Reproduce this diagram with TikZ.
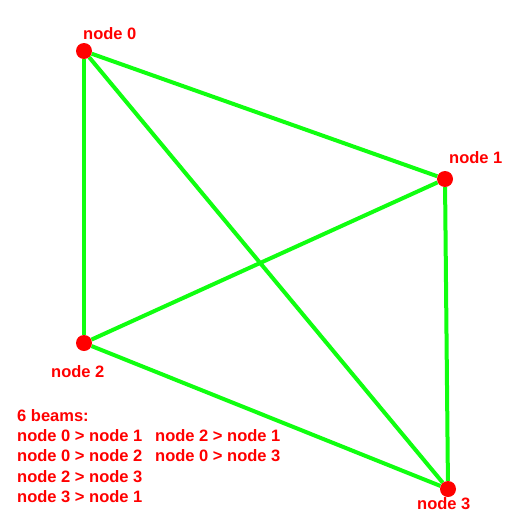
\documentclass[tikz,border=0pt]{standalone}
\usepackage{fontspec}
\setmainfont{Liberation Sans}
\usetikzlibrary{backgrounds, positioning}
\definecolor{beamgreen}{RGB}{16,255,16}

\begin{document}
\begin{tikzpicture}[x=1pt, y=-1pt,
		joint/.style={circle, fill=red, inner sep=0pt, minimum size=16pt},
		beam/.style={draw=beamgreen, line width=4pt},
		tag/.style={text=red, font=\bfseries\fontsize{16.5}{20}\selectfont, inner sep=0pt, anchor=base west}
		]
		\useasboundingbox (0,0) rectangle (512,512);
		\node [joint] (node0) at (84,51) {};
		\node [joint] (node1) at (445,179) {};
		\node [joint] (node2) at (84,343) {};
		\node [joint] (node3) at (448,489) {};
		\begin{scope}[on background layer]
			\draw [beam] (node0) -- (node1);
			\draw [beam] (node0) -- (node2);
			\draw [beam] (node2) -- (node3);
			\draw [beam] (node3) -- (node1);
			\draw [beam] (node2) -- (node1);
			\draw [beam] (node0) -- (node3);
		\end{scope}
		\node [tag] (tag0) at (83,39) {node 0};
		\node [tag] (tag1) at (449,163) {node 1};
		\node [tag] (tag2) at (51,377) {node 2};
		\node [tag] (tag3) at (417,509) {node 3};
		% beam list
		\node [tag] (count) at (17,421) {6 beams:};
		\node [tag] (beam01) at (17,441.5) {node 0 > node 1};
		\node [tag] (beam02) at (17,461.5) {node 0 > node 2};
		\node [tag] (beam23) at (17,482) {node 2 > node 3};
		\node [tag] (beam31) at (17,502) {node 3 > node 1};
		\node [tag] (beam21) at (155,441.5) {node 2 > node 1};
		\node [tag] (beam03) at (155,461.5) {node 0 > node 3};
	\end{tikzpicture}
\end{document}
